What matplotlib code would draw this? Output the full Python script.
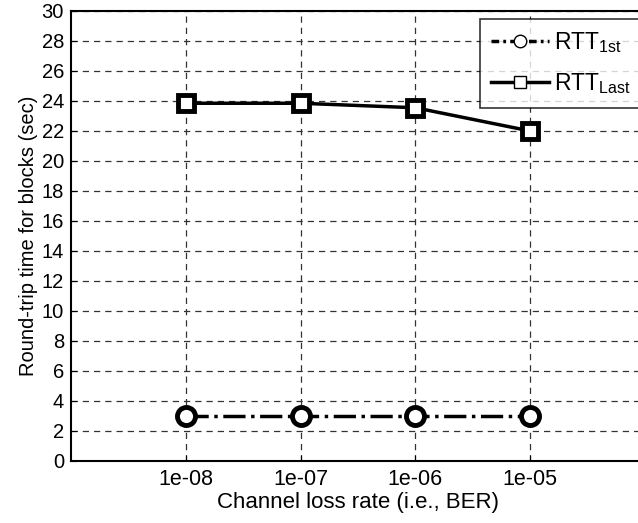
import matplotlib
matplotlib.use("Agg")
import matplotlib.pyplot as plt
from matplotlib.lines import Line2D

plt.rcParams['font.family'] = ['Liberation Sans', 'DejaVu Sans']
plt.rcParams['mathtext.fontset'] = 'custom'
plt.rcParams['mathtext.rm'] = 'Liberation Sans'
plt.rcParams['mathtext.it'] = 'Liberation Sans'

# --- data ---
ber_labels = ['1e-08', '1e-07', '1e-06', '1e-05']
rtt_first = [3.0, 3.0, 3.0, 3.0]
rtt_last = [23.85, 23.85, 23.55, 22.0]

x = list(range(1, len(ber_labels) + 1))

fig = plt.figure(figsize=(6.38, 5.23), dpi=100)
# axes run slightly past the right edge, as in the reference crop
ax = fig.add_axes([71 / 638, (523 - 461) / 523, (645 - 71) / 638, 450 / 523])

ax.plot(x, rtt_first, color='black', linestyle='-.', linewidth=2.5,
        marker='o', markersize=13, markerfacecolor='white',
        markeredgewidth=3.5, markeredgecolor='black', zorder=3)
ax.plot(x, rtt_last, color='black', linestyle='-', linewidth=2.5,
        marker='s', markersize=12, markerfacecolor='white',
        markeredgewidth=3.5, markeredgecolor='black', zorder=3)

ax.set_xlim(0, 5)
ax.set_ylim(0, 30)
ax.set_xticks(x)
ax.set_xticklabels(ber_labels)
ax.set_yticks(range(0, 31, 2))
ax.tick_params(axis='x', labelsize=15.5, direction='in', length=4, pad=6)
ax.tick_params(axis='y', labelsize=14.5, direction='in', length=4, pad=5)
ax.grid(True, linestyle=(0, (5, 4)), color='#333333', linewidth=0.9)

for side in ['left', 'bottom', 'top', 'right']:
    ax.spines[side].set_linewidth(1.5)

ax.set_xlabel('Channel loss rate (i.e., BER)', fontsize=16, labelpad=1)
ax.set_ylabel('Round-trip time for blocks (sec)', fontsize=14.5, labelpad=3)

# legend proxies with lighter markers like the original
h1 = Line2D([], [], color='black', linestyle=(0, (2.2, 1.2, 0.8, 1.2)),
            linewidth=2.5, marker='o', markersize=9, markerfacecolor='white',
            markeredgewidth=1, markeredgecolor='black')
h2 = Line2D([], [], color='black', linestyle='-', linewidth=2.5,
            marker='s', markersize=9, markerfacecolor='white',
            markeredgewidth=1, markeredgecolor='black')
leg = ax.legend([h1, h2], [r'RTT$_{\mathrm{1st}}$', r'RTT$_{\mathrm{Last}}$'],
                loc='upper left', bbox_to_anchor=(409 / 574, 1 - 8 / 450),
                borderaxespad=0, fontsize=16.5, handlelength=2.5,
                handletextpad=0.25, frameon=True, fancybox=False,
                edgecolor='black', borderpad=0.5, labelspacing=0.7)
leg.get_frame().set_linewidth(1.2)

fig.savefig('out.png', dpi=100)
plt.close(fig)
